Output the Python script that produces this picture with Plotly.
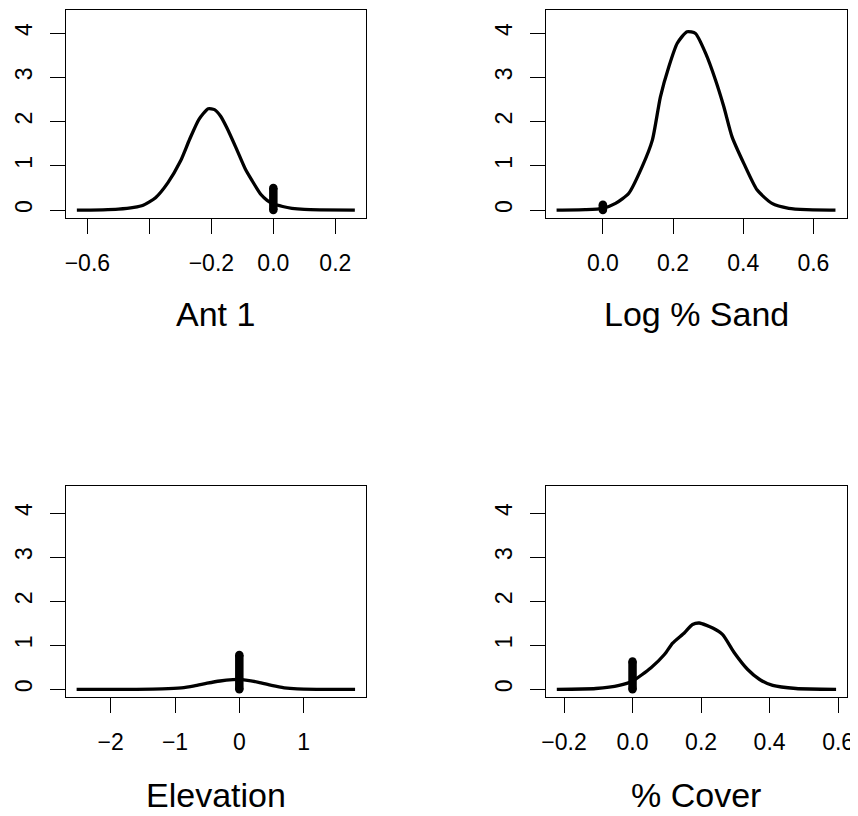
import plotly.graph_objects as go

# ---- data ----
titles = ["Ant 1", "Log % Sand", "Elevation", "% Cover"]

ant_x = [-0.634, -0.55, -0.5, -0.45, -0.42, -0.38, -0.34, -0.30, -0.27, -0.24, -0.21,
         -0.19, -0.17, -0.15, -0.12, -0.09, -0.07, -0.04, -0.02, 0.0, 0.03, 0.06, 0.1, 0.15, 0.263]
ant_y = [0, 0.005, 0.02, 0.06, 0.11, 0.28, 0.62, 1.1, 1.6, 2.05, 2.29,
         2.27, 2.12, 1.86, 1.4, 0.92, 0.68, 0.35, 0.22, 0.14, 0.08, 0.04, 0.015, 0.005, 0]

sand_x = [-0.132, -0.05, 0.0, 0.036, 0.074, 0.112, 0.141, 0.164, 0.188, 0.212, 0.240,
          0.264, 0.293, 0.321, 0.345, 0.368, 0.402, 0.440, 0.482, 0.530, 0.58, 0.663]
sand_y = [0, 0.01, 0.04, 0.15, 0.38, 0.98, 1.58, 2.56, 3.24, 3.77, 4.03,
          3.99, 3.54, 2.94, 2.33, 1.66, 1.05, 0.45, 0.15, 0.04, 0.01, 0]

elev_x = [-2.53, -1.6, -1.2, -0.9, -0.7, -0.5, -0.3, -0.1, 0.0, 0.1, 0.3, 0.5, 0.7, 0.9, 1.2, 1.80]
elev_y = [0, 0.002, 0.01, 0.035, 0.08, 0.14, 0.19, 0.22, 0.225, 0.21, 0.16, 0.09, 0.035, 0.01, 0.002, 0]

cover_x = [-0.221, -0.107, -0.039, 0.0, 0.054, 0.093, 0.117, 0.151, 0.175, 0.195, 0.234,
           0.263, 0.297, 0.336, 0.370, 0.409, 0.477, 0.594]
cover_y = [0, 0.02, 0.09, 0.19, 0.49, 0.79, 1.05, 1.28, 1.47, 1.505, 1.39,
           1.24, 0.83, 0.45, 0.23, 0.09, 0.02, 0]

# rug of values at zero (stacked points)
rug_x = [0.0, 0.0, 0.0, 0.0]
rug_top = [0.5, 0.12, 0.78, 0.63]

x_ranges = [[-0.670, 0.299], [-0.163, 0.695], [-2.70, 1.97], [-0.2534, 0.625]]
x_tickvals = [[-0.6, -0.4, -0.2, 0.0, 0.2], [0.0, 0.2, 0.4, 0.6],
              [-2, -1, 0, 1], [-0.2, 0.0, 0.2, 0.4, 0.6]]
x_ticktext = [["−0.6", "", "−0.2", "0.0", "0.2"], ["0.0", "0.2", "0.4", "0.6"],
              ["−2", "−1", "0", "1"], ["−0.2", "0.0", "0.2", "0.4", "0.6"]]
y_tickvals = [0, 1, 2, 3, 4]
y_ticktext = ["0", "1", "2", "3", "4"]
# top row box is limited by the page edge, so its range top is trimmed accordingly
y_ranges = [[-0.18, 4.53], [-0.18, 4.62]]

# page has an 8px body margin: figure placed at (8, 8)
OFF = 8
W, H = 850, 808


def px_x(p):
    return (p - OFF) / W


def px_y(p):
    return min(1.0, 1 - (p - OFF) / H)


xdoms = [[px_x(65.7), px_x(366)], [px_x(545.7), px_x(846.7)]]
ydoms = [[px_y(218), px_y(9.6)], [px_y(697.3), px_y(485.7)]]
title_y = [px_y(314), px_y(795)]

curves = [(ant_x, ant_y), (sand_x, sand_y), (elev_x, elev_y), (cover_x, cover_y)]

FONT = "Liberation Sans, Arial, Helvetica, sans-serif"

fig = go.Figure()
layout = dict(
    width=W, height=H,
    margin=dict(l=0, r=0, t=0, b=0, autoexpand=False),
    paper_bgcolor="white", plot_bgcolor="white",
    showlegend=False,
    font=dict(family=FONT, color="black"),
)

annotations = []
for i in range(4):
    r, c = divmod(i, 2)
    xa = "x" if i == 0 else f"x{i+1}"
    ya = "y" if i == 0 else f"y{i+1}"
    xk = "xaxis" if i == 0 else f"xaxis{i+1}"
    yk = "yaxis" if i == 0 else f"yaxis{i+1}"
    cx, cy = curves[i]
    fig.add_trace(go.Scatter(x=cx, y=cy, mode="lines", xaxis=xa, yaxis=ya,
                             line=dict(color="black", width=3.3, shape="spline", smoothing=0.6),
                             hoverinfo="skip"))
    # rug: stacked points at zero
    fig.add_trace(go.Scatter(x=[rug_x[i], rug_x[i]], y=[0, rug_top[i]], mode="lines+markers",
                             xaxis=xa, yaxis=ya,
                             line=dict(color="black", width=8.5),
                             marker=dict(color="black", size=8.5, symbol="circle"),
                             hoverinfo="skip"))
    common = dict(showgrid=False, zeroline=False, showline=True, mirror=True, automargin=False,
                  linecolor="black", linewidth=1.3, ticks="outside", ticklen=15,
                  tickwidth=1.3, tickcolor="black",
                  tickfont=dict(family=FONT, size=23, color="black"))
    layout[xk] = dict(domain=xdoms[c], anchor=ya, range=x_ranges[i],
                      tickmode="array", tickvals=x_tickvals[i], ticktext=x_ticktext[i],
                      ticklabelstandoff=9, **common)
    layout[yk] = dict(domain=ydoms[r], anchor=xa, range=y_ranges[r],
                      tickmode="array", tickvals=y_tickvals, ticktext=y_ticktext,
                      tickangle=-90, ticklabelstandoff=8, **common)
    annotations.append(dict(text=titles[i], xref="paper", yref="paper",
                            x=(xdoms[c][0] + xdoms[c][1]) / 2,
                            y=title_y[r], xanchor="center", yanchor="middle",
                            showarrow=False, font=dict(family=FONT, size=34, color="black")))

layout["annotations"] = annotations
fig.update_layout(**layout)
fig.write_html("out.html")
